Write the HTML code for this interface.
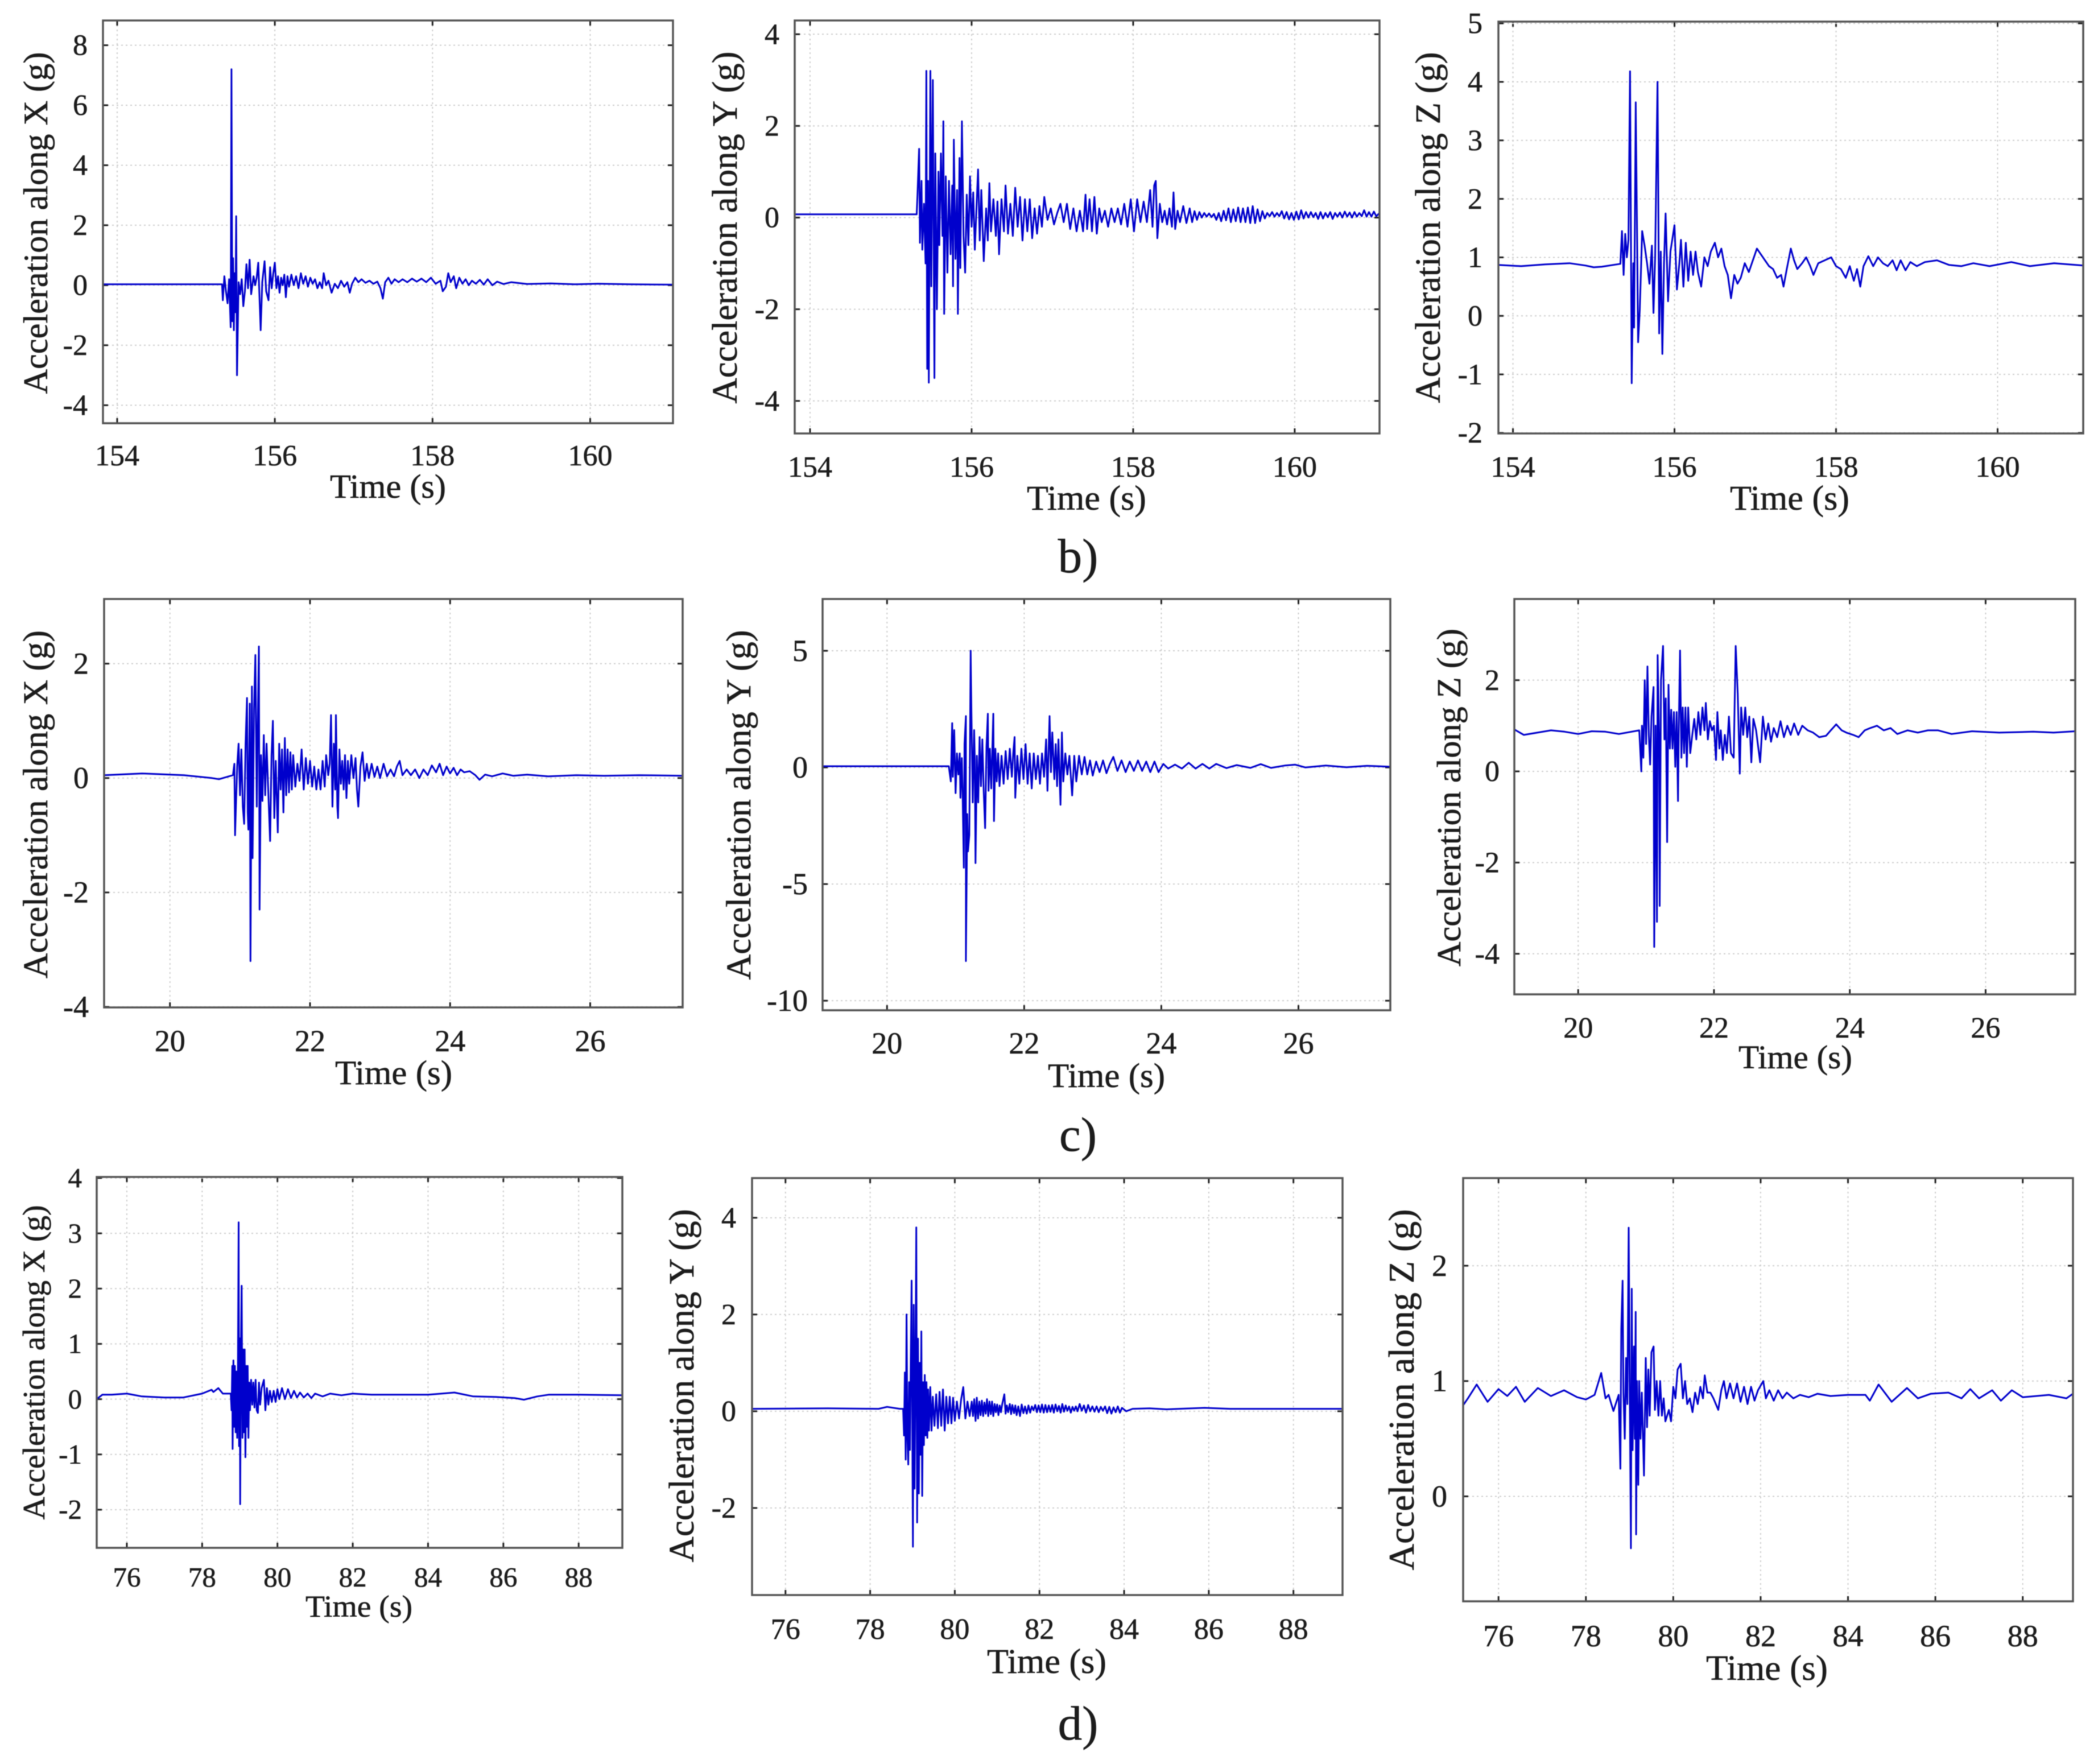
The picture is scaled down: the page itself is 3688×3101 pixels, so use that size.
<!DOCTYPE html>
<html lang="en">
<head>
<meta charset="utf-8">
<title>Acceleration along X, Y and Z versus time</title>
<style>
html,body{margin:0;padding:0;background:#fff;width:3688px;height:3101px;overflow:hidden}
svg{display:block;filter:blur(.7px)}
text{font-family:"Liberation Serif","DejaVu Serif",serif;fill:#1c1c1c;stroke:#1c1c1c;stroke-width:.6px}
</style>
</head>
<body>
<svg id="figure" xmlns="http://www.w3.org/2000/svg" width="3688" height="3101" viewBox="0 0 3688 3101">
<rect x="0" y="0" width="3688" height="3101" fill="#fff"/>
<text x="1895" y="1006" font-size="85" text-anchor="middle">b)</text>
<text x="1895" y="2023" font-size="85" text-anchor="middle">c)</text>
<text x="1895" y="3058" font-size="85" text-anchor="middle">d)</text>
</svg>
<script>
/* ---------- tick labels ---------- */
const bTimeTicks=[154,156,158,160];
const cTimeTicks=[20,22,24,26];
const dTimeTicks=[76,78,80,82,84,86,88];
const bxYTicks=[-4,-2,0,2,4,6,8];
const byYTicks=[-4,-2,0,2,4];
const bzYTicks=[-2,-1,0,1,2,3,4,5];
const cxYTicks=[-4,-2,0,2];
const cyYTicks=[-10,-5,0,5];
const czYTicks=[-4,-2,0,2];
const dxYTicks=[-2,-1,0,1,2,3,4];
const dyYTicks=[-2,0,2,4];
const dzYTicks=[0,1,2];

/* ---------- series: time (s) and acceleration (g) ---------- */
const bxTime=[153.82,155.33,155.34,155.36,155.38,155.40,155.42,155.44,155.45,155.46,
155.47,155.48,155.49,155.50,155.51,155.52,155.54,155.56,155.58,155.60,
155.62,155.64,155.66,155.68,155.70,155.73,155.75,155.77,155.79,155.82,
155.84,155.87,155.89,155.92,155.94,155.96,155.98,156.00,156.02,156.04,
156.06,156.08,156.10,156.12,156.14,156.16,156.18,156.21,156.24,156.27,
156.30,156.33,156.36,156.39,156.42,156.45,156.48,156.51,156.54,156.57,
156.60,156.62,156.65,156.68,156.72,156.76,156.80,156.84,156.88,156.92,
156.95,156.98,157.02,157.06,157.10,157.15,157.20,157.25,157.30,157.34,
157.37,157.40,157.44,157.48,157.52,157.57,157.62,157.68,157.74,157.80,
157.86,157.92,157.98,158.04,158.10,158.13,158.17,158.20,158.23,158.27,
158.30,158.34,158.38,158.42,158.46,158.50,158.55,158.60,158.65,158.70,
158.76,158.82,158.9,159.0,159.2,159.5,159.8,160.1,160.5,161.05];
const bxAccel=[.03,.03,-.5,.3,-.2,-.6,.2,-1.4,7.2,-1.2,
.9,-1.5,.4,-.9,2.3,-3.0,.1,-.3,.2,-.7,
-.2,.7,-.1,.85,-.3,.3,0,.25,.75,-1.5,
.1,.8,-.2,-.5,.6,-.1,.4,.75,-.1,.3,
-.25,.25,0,.35,-.4,.3,-.05,.35,0,.3,
-.1,.4,.05,.3,-.05,.25,.05,.2,-.1,.1,
-.1,.4,0,.15,-.25,.05,-.1,.15,-.05,.1,
-.25,.05,.25,.1,.2,.08,.15,.05,.12,-.1,
-.45,.1,.25,.05,.2,.1,.2,.1,.22,.12,
.22,.1,.25,.05,.15,-.2,-.05,.4,.1,.3,
-.1,.25,.05,.2,0,.15,.05,.18,.02,.2,
0,.12,.04,.1,.04,.06,.03,.05,.03,.02];

const byTime=[153.81,155.32,155.33,155.35,155.36,155.38,155.39,155.41,155.43,155.44,
155.45,155.46,155.47,155.49,155.50,155.52,155.53,155.54,155.55,155.57,
155.59,155.60,155.62,155.64,155.65,155.66,155.68,155.70,155.72,155.74,
155.76,155.77,155.78,155.80,155.82,155.83,155.85,155.86,155.88,155.90,
155.92,155.94,155.96,155.98,156.00,156.02,156.04,156.06,156.08,156.10,
156.12,156.15,156.18,156.20,156.22,156.24,156.27,156.30,156.32,156.34,
156.37,156.40,156.42,156.45,156.48,156.51,156.54,156.57,156.60,156.63,
156.66,156.69,156.72,156.75,156.78,156.81,156.84,156.87,156.90,156.94,
156.98,157.02,157.06,157.10,157.14,157.18,157.22,157.26,157.30,157.34,
157.38,157.41,157.43,157.46,157.49,157.52,157.55,157.58,157.61,157.65,
157.69,157.73,157.77,157.81,157.85,157.89,157.93,157.97,158.01,158.05,
158.09,158.13,158.17,158.21,158.24,158.26,158.28,158.30,158.33,158.36,
158.39,158.42,158.45,158.48,158.50,158.52,158.55,158.58,158.62,158.66,
158.70,158.73,158.76,158.79,158.82,158.85,158.88,158.91,158.94,158.97,
159.0,159.03,159.06,159.09,159.12,159.15,159.18,159.21,159.24,159.27,
159.3,159.33,159.36,159.39,159.42,159.45,159.48,159.51,159.54,159.57,
159.6,159.63,159.66,159.69,159.72,159.75,159.78,159.81,159.84,159.87,
159.9,159.93,159.96,159.99,160.02,160.05,160.08,160.11,160.14,160.17,
160.2,160.23,160.26,160.29,160.32,160.35,160.38,160.41,160.44,160.47,
160.5,160.53,160.56,160.59,160.62,160.65,160.68,160.71,160.74,160.77,
160.8,160.83,160.86,160.89,160.92,160.95,160.98,161.01,161.05];
const byAccel=[.07,.07,.5,1.5,-.55,.8,-.7,.3,-1,3.2,
-3.3,.8,-3.6,3.2,-1.5,3.0,-.5,-3.5,1.4,-2.0,
1.0,-.6,1.4,-.4,2.1,-2.1,.9,-1.2,.8,-.8,
.7,-1.5,1.7,-.9,.6,-2.1,1.3,-1.1,2.1,-.4,
-1.2,.5,-.6,.9,-.2,.55,-.7,.2,1.05,-.5,
.6,-.95,.2,-.5,.75,-.3,.4,-.4,.35,-.8,
.4,-.3,.7,-.35,.3,-.4,.65,-.2,.45,-.5,
.4,-.3,.4,-.45,.2,-.35,.25,-.2,.45,-.05,
.2,-.15,.1,.3,-.1,.3,-.25,.2,-.3,.15,
-.3,.5,-.25,.4,-.3,.45,-.35,.2,-.1,.15,
-.2,.2,-.1,.2,-.15,.3,-.2,.4,-.3,.4,
-.1,.35,-.1,.6,-.2,.7,.8,-.45,.3,-.1,
.15,-.15,.2,-.2,.55,-.25,.15,-.1,.25,-.12,
.2,-.1,.14,-.05,.12,0,.1,.02,.09,.01,
.08,-.05,.1,-.08,.15,-.06,.2,-.1,.18,-.08,
.22,-.1,.2,-.1,.22,-.12,.25,-.12,.18,-.08,
.14,-.02,.1,.03,.12,.02,.1,.03,.14,-.02,
.12,-.04,.1,-.05,.13,-.04,.16,-.02,.12,0,
.12,.01,.1,-.03,.12,-.02,.1,.01,.12,-.03,
.1,.02,.11,0,.13,.02,.11,0,.12,.02,
.1,.03,.16,.02,.12,.02,.13,.03,.1];

const bzTime=[153.82,154.1,154.4,154.7,154.9,155.0,155.1,155.33,155.35,155.37,
155.39,155.41,155.43,155.45,155.47,155.49,155.50,155.52,155.55,155.57,
155.60,155.63,155.66,155.69,155.72,155.74,155.76,155.79,155.81,155.83,
155.85,155.87,155.89,155.92,155.95,156.00,156.03,156.06,156.08,156.11,
156.14,156.17,156.2,156.23,156.26,156.29,156.33,156.37,156.41,156.45,
156.5,156.54,156.58,156.62,156.66,156.7,156.74,156.78,156.82,156.87,
156.92,156.97,157.02,157.07,157.12,157.17,157.22,157.27,157.32,157.35,
157.39,157.44,157.48,157.52,157.58,157.63,157.68,157.72,157.78,157.86,
157.94,158.0,158.06,158.12,158.17,158.22,158.26,158.3,158.34,158.4,
158.46,158.52,158.58,158.64,158.7,158.75,158.8,158.86,158.92,159.0,
159.1,159.25,159.4,159.55,159.7,159.9,160.17,160.4,160.7,161.06];
const bzAccel=[.87,.85,.88,.9,.86,.83,.84,.89,1.45,.7,
1.4,1.0,1.3,4.18,-1.15,.9,-.2,3.65,-.45,.1,
1.45,1.2,.9,.55,1.2,.05,1.0,4.0,-.3,1.1,
-.65,.9,1.75,.25,1.1,1.55,.45,.9,1.3,.5,
1.25,.6,1.1,.7,1.1,.75,.5,1.0,.85,1.1,
1.25,1.0,1.15,.85,.7,.3,.7,.55,.65,.9,
.75,.95,1.15,1.05,.95,.85,.8,.65,.7,.5,
.8,1.15,.95,.8,.9,1.0,.85,.7,.9,.95,
1.0,.85,.8,.65,.85,.6,.8,.5,.85,1.02,
.85,1.0,.9,.85,.95,.78,.95,.78,.92,.85,
.92,.95,.87,.85,.9,.85,.92,.85,.9,.86];

const cxTime=[19.06,19.6,20.2,20.6,20.7,20.9,20.92,20.93,20.96,20.98,
21.0,21.02,21.04,21.06,21.08,21.10,21.11,21.12,21.14,21.15,
21.17,21.18,21.20,21.22,21.24,21.25,21.27,21.28,21.30,21.32,
21.34,21.36,21.38,21.40,21.43,21.45,21.47,21.49,21.51,21.54,
21.56,21.58,21.60,21.62,21.64,21.66,21.68,21.70,21.72,21.74,
21.76,21.79,21.82,21.85,21.88,21.91,21.94,21.97,22.0,22.03,
22.06,22.09,22.12,22.15,22.18,22.21,22.23,22.26,22.28,22.30,
22.32,22.34,22.36,22.37,22.39,22.40,22.42,22.44,22.46,22.48,
22.5,22.52,22.54,22.56,22.59,22.62,22.65,22.67,22.69,22.72,
22.75,22.78,22.81,22.84,22.88,22.92,22.96,23.0,23.05,23.1,
23.15,23.2,23.24,23.28,23.32,23.38,23.44,23.5,23.56,23.62,
23.68,23.74,23.8,23.85,23.9,23.95,24.0,24.05,24.1,24.15,
24.2,24.28,24.36,24.42,24.5,24.6,24.75,24.9,25.1,25.4,
25.8,26.2,26.7,27.32];
const cxAccel=[.05,.08,.05,0,-.02,.05,.25,-1.0,.2,.6,
-.3,.5,-.5,-.8,.6,1.4,-.6,-.9,1.3,-3.2,
1.6,-1.4,1.2,2.15,-.5,.6,2.3,-2.3,.4,-.4,
.75,-.3,.6,-.1,-1.1,.4,1.0,-.7,.3,-.95,
.6,-.2,.5,-.6,.7,-.3,.5,-.25,.45,-.2,
.4,-.15,.25,-.05,.5,-.2,.35,-.1,.3,-.15,
.2,-.2,.15,-.2,.3,-.15,.4,.05,.25,1.1,
-.5,.6,-.2,1.1,-.5,-.7,.5,-.1,.3,-.2,
.4,-.35,.3,-.1,.4,0,.35,-.2,-.5,.2,
.45,-.05,.25,0,.25,.02,.2,0,.25,.03,
.15,.03,.2,.3,.05,.15,.05,.15,0,.15,
.05,.22,.1,.25,.05,.2,.08,.18,.05,.15,
.1,.12,.05,-.03,.06,.03,.08,.04,.06,.03,
.05,.04,.05,.04];

const cyTime=[19.06,20.9,20.93,20.95,20.96,20.98,21.0,21.02,21.04,21.06,
21.07,21.09,21.10,21.12,21.13,21.15,21.15,21.17,21.18,21.20,
21.21,21.22,21.23,21.25,21.27,21.28,21.29,21.31,21.33,21.35,
21.37,21.39,21.41,21.43,21.45,21.47,21.48,21.50,21.52,21.55,
21.56,21.58,21.60,21.62,21.64,21.67,21.70,21.73,21.76,21.79,
21.82,21.84,21.86,21.87,21.90,21.93,21.96,21.99,22.02,22.05,
22.08,22.11,22.14,22.17,22.20,22.23,22.26,22.29,22.32,22.34,
22.37,22.39,22.41,22.44,22.46,22.48,22.50,22.53,22.55,22.57,
22.60,22.63,22.66,22.70,22.73,22.76,22.8,22.84,22.88,22.92,
22.96,23.0,23.05,23.1,23.15,23.2,23.25,23.3,23.36,23.42,
23.48,23.54,23.6,23.66,23.72,23.78,23.84,23.9,23.96,24.03,
24.1,24.2,24.3,24.4,24.5,24.6,24.7,24.8,24.95,25.1,
25.3,25.45,25.6,25.8,25.95,26.1,26.4,26.7,27.0,27.34];
const cyAccel=[.05,.05,-.6,1.9,-.4,1.6,-1.1,.6,-.3,.6,
-1.3,.4,-.8,-4.3,1.0,2.2,-8.3,-2,-3.6,-2.9,
1,5.0,2.4,-1.5,1.6,.3,-4.1,.5,-1.5,1.3,
-.8,1.2,-1,-2.6,.9,2.3,-1,.8,-.9,2.3,
-2.3,.8,-.6,.6,-.8,.5,-.7,.7,-.5,.8,
-.4,.6,1.3,-1.3,.5,-.7,.8,-.5,1.0,-.7,
.6,-.9,.6,-.5,.5,-.7,.6,-.4,1.2,-1.0,
2.2,-.2,1.5,-.5,1.0,-.8,1.2,-1.6,1.5,-.6,
.6,-.3,.5,-1.2,.5,-.6,.5,-.3,.45,-.3,
.3,-.35,.25,-.2,.3,-.25,.15,.45,-.15,.3,
-.2,.25,-.15,.3,-.15,.25,-.2,.25,-.2,.15,
-.05,.12,-.05,.2,-.05,.15,-.05,.15,-.03,.1,
-.02,.14,-.02,.08,.12,0,.08,.01,.07,.03];

const czTime=[19.06,19.2,19.4,19.6,19.8,20.0,20.2,20.4,20.6,20.9,
20.93,20.94,20.96,20.98,21.0,21.02,21.04,21.06,21.08,21.11,
21.12,21.14,21.16,21.17,21.19,21.20,21.22,21.25,21.27,21.29,
21.31,21.33,21.35,21.37,21.39,21.41,21.43,21.45,21.47,21.48,
21.50,21.52,21.54,21.56,21.58,21.60,21.62,21.65,21.68,21.71,
21.74,21.77,21.8,21.83,21.86,21.88,21.91,21.94,21.97,22.0,
22.03,22.05,22.08,22.1,22.13,22.16,22.19,22.22,22.25,22.29,
22.32,22.35,22.38,22.4,22.43,22.46,22.49,22.52,22.55,22.58,
22.62,22.65,22.68,22.72,22.76,22.8,22.84,22.88,22.93,22.98,
23.03,23.08,23.13,23.18,23.24,23.3,23.38,23.46,23.55,23.65,
23.72,23.8,23.88,23.95,24.05,24.13,24.22,24.3,24.4,24.5,
24.6,24.7,24.85,25.0,25.15,25.3,25.5,25.8,26.2,26.7,
27.0,27.32];
const czAccel=[.92,.8,.85,.9,.87,.82,.88,.87,.82,.9,
0,1.0,.3,2.0,.6,2.3,.8,.15,1.2,1.85,
-3.85,1,-3.3,2.55,.8,-2.95,2.0,2.75,.7,1.6,
-1.55,1.9,.5,1.35,.5,1.3,.1,1.3,-.65,.8,
2.65,.3,1.4,.4,1.4,.1,1.4,.4,.8,1.15,
.7,1.3,.8,1.4,.9,1.5,.7,1.1,.9,1.0,
.25,1.3,.5,.9,.25,.8,.4,1.2,.4,.3,
2.75,1.7,-.05,1.4,.8,1.4,.75,1.2,.2,1.15,
.9,.55,.2,1.2,.7,1.05,.65,.95,.75,1.1,
.75,1.0,.8,1.05,.8,1.0,.9,.85,.75,.78,
.9,1.03,.9,.85,.8,.75,.9,.95,1.0,.9,
.95,.82,.9,.85,.9,.9,.82,.88,.85,.87,
.85,.88];

const dxTime=[75.2,75.35,75.6,76.0,76.4,77.0,77.5,78.0,78.25,78.3,
78.43,78.55,78.76,78.78,78.80,78.81,78.83,78.85,78.87,78.89,
78.91,78.93,78.95,78.97,78.98,79.00,79.01,79.03,79.05,79.07,
79.09,79.11,79.13,79.15,79.17,79.19,79.21,79.23,79.25,79.27,
79.30,79.33,79.36,79.39,79.42,79.45,79.48,79.51,79.54,79.58,
79.64,79.68,79.72,79.76,79.8,79.85,79.9,79.95,80.0,80.05,
80.12,80.2,80.28,80.36,80.44,80.52,80.6,80.7,80.8,80.9,
81.0,81.2,81.4,81.7,82.0,82.5,83,83.5,84,84.7,
85.2,85.8,86.3,86.55,86.9,87.2,88,89.16];
const dxAccel=[0,.08,.08,.1,.05,.03,.03,.1,.17,.13,
.2,.1,.1,-.2,.6,-.9,.7,-.5,.6,-.6,
.5,-.7,.4,3.2,-.85,1.1,-1.9,.9,2.05,-.7,
.9,-.6,.9,-1.05,.6,-.5,.6,-.7,.3,-.2,
.35,-.1,.3,-.15,.35,-.2,-.25,.3,-.1,.2,
.35,-.2,.2,-.1,.15,-.05,.15,-.05,.18,0,
.2,0,.18,.02,.15,.03,.12,.03,.1,.02,
.1,.05,.1,.07,.1,.08,.08,.08,.08,.12,
.05,.04,.02,-.01,.05,.08,.08,.07];

const dyTime=[75.21,77,78.2,78.4,78.7,78.78,78.80,78.82,78.84,78.86,
78.88,78.90,78.92,78.94,78.96,78.98,79.0,79.01,79.03,79.05,
79.07,79.09,79.11,79.13,79.15,79.17,79.19,79.21,79.23,79.25,
79.27,79.29,79.31,79.33,79.35,79.37,79.39,79.42,79.45,79.48,
79.52,79.56,79.6,79.64,79.68,79.72,79.76,79.8,79.84,79.88,
79.92,79.96,80.0,80.05,80.1,80.15,80.2,80.25,80.3,80.35,
80.4,80.43,80.46,80.49,80.52,80.55,80.58,80.61,80.64,80.67,
80.7,80.73,80.76,80.79,80.82,80.85,80.88,80.91,80.94,80.97,
81.0,81.03,81.06,81.09,81.12,81.17,81.2,81.23,81.26,81.3,
81.33,81.36,81.4,81.43,81.46,81.5,81.54,81.58,81.62,81.66,
81.7,81.74,81.78,81.82,81.86,81.9,81.94,81.98,82.02,82.06,
82.1,82.14,82.18,82.22,82.26,82.3,82.34,82.38,82.42,82.46,
82.5,82.54,82.58,82.62,82.66,82.7,82.74,82.78,82.82,82.86,
82.9,82.95,83.0,83.05,83.1,83.15,83.2,83.25,83.3,83.35,
83.4,83.45,83.5,83.55,83.6,83.65,83.7,83.75,83.8,83.85,
83.9,83.95,84.05,
84.2,84.6,85,85.9,86.5,87.5,89.16];
const dyAccel=[.05,.06,.05,.09,.05,.05,-.5,.8,-1.0,2.0,
-.5,-1.1,.6,-.8,1.0,2.7,-1.1,-2.8,2.2,-1.6,
.8,3.8,-2.3,1.5,-1.7,1.0,-.9,1.65,-1.75,.6,
-.7,.75,-.5,.6,-.55,.45,-.4,.5,-.4,.3,
-.3,.35,-.35,.4,-.3,.45,-.4,.3,-.25,.3,
-.25,.28,-.2,.2,-.15,.25,.5,-.15,.2,-.1,
.2,-.1,.25,-.2,.28,-.15,.2,-.08,.22,-.1,
.18,-.05,.25,-.1,.2,-.06,.2,-.1,.15,-.02,
.14,-.08,.12,-.02,.15,.35,-.05,.12,-.02,.15,
-.06,.13,-.04,.12,-.08,.1,-.1,.14,-.04,.1,
-.05,.12,-.03,.1,.02,.13,-.02,.12,-.02,.14,
-.03,.13,-.02,.12,-.01,.13,-.03,.14,0,.11,
-.03,.15,-.01,.12,.01,.1,-.03,.09,.01,.1,
0,.15,.01,.12,-.03,.13,0,.1,-.01,.1,
-.02,.09,.01,.1,-.04,.09,-.05,.08,-.02,.1,
-.03,.07,0,
.05,.06,.04,.07,.05,.05,.05];

const dzTime=[75.19,75.3,75.5,75.75,76.0,76.2,76.4,76.6,76.9,77.2,
77.5,77.8,78.0,78.2,78.35,78.45,78.52,78.63,78.75,78.79,
78.81,78.84,78.86,78.89,78.92,78.95,78.98,79.0,79.03,79.05,
79.07,79.10,79.12,79.14,79.15,79.17,79.2,79.22,79.25,79.28,
79.33,79.37,79.4,79.43,79.46,79.5,79.55,79.58,79.62,79.66,
79.7,79.74,79.78,79.82,79.86,79.9,79.95,80.0,80.05,80.1,
80.17,80.22,80.27,80.32,80.38,80.44,80.5,80.56,80.62,80.68,
80.72,80.78,80.85,80.92,81.03,81.1,81.16,81.22,81.3,81.38,
81.46,81.54,81.62,81.7,81.78,81.86,81.94,82.06,82.12,82.2,
82.3,82.4,82.5,82.6,82.75,82.9,83.1,83.3,83.6,84.0,
84.4,84.5,84.7,85,85.35,85.6,85.9,86.3,86.6,86.8,
87,87.3,87.5,87.75,88,88.6,89,89.15];
const dzAccel=[.79,.85,.97,.82,.93,.87,.95,.82,.94,.87,
.92,.86,.84,.88,1.07,.85,.88,.74,.88,.24,
1.45,1.87,.9,.5,1.2,.8,2.33,1.1,-.45,1.8,
.4,1.3,.5,1.6,-.33,1.0,.1,1.0,.5,.9,
.18,1.2,.6,1.1,.7,1.25,1.3,.75,1.0,.7,
1.0,.7,.85,.65,.7,.75,.65,.95,.85,1.1,
1.15,.85,1.0,.8,.85,.73,.9,.8,.95,.85,
1.05,.9,.9,.85,.75,.92,1.0,.85,.98,.85,
.98,.82,.95,.8,.95,.83,.92,1.0,.85,.92,
.83,.92,.85,.9,.85,.88,.86,.89,.87,.88,
.88,.83,.97,.82,.94,.85,.89,.9,.85,.93,
.85,.92,.83,.92,.86,.88,.85,.89];

/* ---------- panel layout ---------- */
const panels=[
{id:'b-x',title:'Acceleration along X (g)',time:bxTime,accel:bxAccel,xTicks:bTimeTicks,yTicks:bxYTicks,left:181,right:1183,top:36,bottom:744,xMin:153.82,xMax:161.05,yMin:-4.6,yMax:8.825,tickFont:52,xLabelCy:801,yLabelRight:154,timeX:682,timeY:875,timeLen:204,timeFont:59,titleX:83,titleCy:392,titleLen:601,titleFont:60},
{id:'b-y',title:'Acceleration along Y (g)',time:byTime,accel:byAccel,xTicks:bTimeTicks,yTicks:byYTicks,left:1397,right:2425,top:36,bottom:762,xMin:153.81,xMax:161.05,yMin:-4.71,yMax:4.3,tickFont:52,xLabelCy:821,yLabelRight:1370,timeX:1910,timeY:896,timeLen:210,timeFont:61,titleX:1295,titleCy:400,titleLen:619,titleFont:62},
{id:'b-z',title:'Acceleration along Z (g)',time:bzTime,accel:bzAccel,xTicks:bTimeTicks,yTicks:bzYTicks,left:2634,right:3662,top:38,bottom:762,xMin:153.82,xMax:161.06,yMin:-2.01,yMax:5.03,tickFont:52,xLabelCy:821,yLabelRight:2606,timeX:3146,timeY:896,timeLen:210,timeFont:61,titleX:2531,titleCy:400,titleLen:617,titleFont:62},
{id:'c-x',title:'Acceleration along X (g)',time:cxTime,accel:cxAccel,xTicks:cTimeTicks,yTicks:cxYTicks,left:183,right:1200,top:1053,bottom:1771,xMin:19.06,xMax:27.32,yMin:-4.01,yMax:3.13,tickFont:54,xLabelCy:1830,yLabelRight:156,timeX:692,timeY:1906,timeLen:206,timeFont:60,titleX:83,titleCy:1414,titleLen:612,titleFont:61},
{id:'c-y',title:'Acceleration along Y (g)',time:cyTime,accel:cyAccel,xTicks:cTimeTicks,yTicks:cyYTicks,left:1446,right:2444,top:1053,bottom:1776,xMin:19.06,xMax:27.34,yMin:-10.41,yMax:7.22,tickFont:54,xLabelCy:1834,yLabelRight:1420,timeX:1945,timeY:1911,timeLen:206,timeFont:60,titleX:1319,titleCy:1415,titleLen:615,titleFont:61},
{id:'c-z',title:'Acceleration along Z (g)',time:czTime,accel:czAccel,xTicks:cTimeTicks,yTicks:czYTicks,left:2662,right:3648,top:1053,bottom:1748,xMin:19.06,xMax:27.32,yMin:-4.89,yMax:3.78,tickFont:52,xLabelCy:1807,yLabelRight:2636,timeX:3156,timeY:1878,timeLen:200,timeFont:58,titleX:2567,titleCy:1402,titleLen:594,titleFont:59},
{id:'d-x',title:'Acceleration along X (g)',time:dxTime,accel:dxAccel,xTicks:dTimeTicks,yTicks:dxYTicks,left:170,right:1094,top:2069,bottom:2721,xMin:75.2,xMax:89.16,yMin:-2.69,yMax:4.02,tickFont:49,xLabelCy:2773,yLabelRight:144,timeX:631,timeY:2842,timeLen:188,timeFont:54,titleX:78,titleCy:2395,titleLen:553,titleFont:55},
{id:'d-y',title:'Acceleration along Y (g)',time:dyTime,accel:dyAccel,xTicks:dTimeTicks,yTicks:dyYTicks,left:1322,right:2360,top:2071,bottom:2804,xMin:75.21,xMax:89.16,yMin:-3.8,yMax:4.82,tickFont:52,xLabelCy:2864,yLabelRight:1294,timeX:1840,timeY:2941,timeLen:210,timeFont:61,titleX:1219,titleCy:2436,titleLen:621,titleFont:62},
{id:'d-z',title:'Acceleration along Z (g)',time:dzTime,accel:dzAccel,xTicks:dTimeTicks,yTicks:dzYTicks,left:2572,right:3644,top:2071,bottom:2815,xMin:75.19,xMax:89.15,yMin:-.91,yMax:2.76,tickFont:54,xLabelCy:2876,yLabelRight:2544,timeX:3106,timeY:2953,timeLen:214,timeFont:62,titleX:2485,titleCy:2443,titleLen:635,titleFont:63}
];

const NS='http://www.w3.org/2000/svg';
const figure=document.getElementById('figure');
function add(parent,tag,attrs,txt){
  const el=document.createElementNS(NS,tag);
  for(const k in attrs){el.setAttribute(k,attrs[k]);}
  if(txt!==undefined){el.textContent=txt;}
  parent.appendChild(el);
  return el;
}
function drawPanel(p){
  const xScale=t=>p.left+(t-p.xMin)*(p.right-p.left)/(p.xMax-p.xMin);
  const yScale=v=>p.bottom-(v-p.yMin)*(p.bottom-p.top)/(p.yMax-p.yMin);
  const grp=add(figure,'g',{});
  
  

  p.xTicks.forEach(function(t){
    const px=xScale(t);
    const grid=add(grp,'line',{x1:px,x2:px,y1:p.top,y2:p.bottom,stroke:'#cdcdcd','stroke-width':2,'stroke-dasharray':'3 5'});
    
    
    const tickB=add(grp,'line',{x1:px,x2:px,y1:p.bottom,y2:p.bottom-9,stroke:'#222','stroke-width':3});
    
    
    const tickT=add(grp,'line',{x1:px,x2:px,y1:p.top,y2:p.top+9,stroke:'#222','stroke-width':3});
    
    
    const label=add(grp,'text',{x:px,y:p.xLabelCy+p.tickFont*.33,'font-size':p.tickFont,'text-anchor':'middle'},String(t));
    
    
  });

  p.yTicks.forEach(function(v){
    const py=yScale(v);
    const grid=add(grp,'line',{x1:p.left,x2:p.right,y1:py,y2:py,stroke:'#cdcdcd','stroke-width':2,'stroke-dasharray':'3 5'});
    
    
    const tickL=add(grp,'line',{x1:p.left,x2:p.left+9,y1:py,y2:py,stroke:'#222','stroke-width':3});
    
    
    const tickR=add(grp,'line',{x1:p.right,x2:p.right-9,y1:py,y2:py,stroke:'#222','stroke-width':3});
    
    
    const label=add(grp,'text',{x:p.yLabelRight,y:py+p.tickFont*.33,'font-size':p.tickFont,'text-anchor':'end'},String(v));
    
    
  });

  let d='';
  const n=Math.min(p.time.length,p.accel.length);
  for(let i=0;i<n;i++){
    d+=(i?'L':'M')+xScale(p.time[i]).toFixed(1)+' '+yScale(p.accel[i]).toFixed(1);
  }
  const trace=add(grp,'path',{d:d,fill:'none',stroke:'#0000cc','stroke-width':3,'stroke-linejoin':'round'});
  
  

  const frame=add(grp,'rect',{x:p.left,y:p.top,width:p.right-p.left,height:p.bottom-p.top,fill:'none',stroke:'#555','stroke-width':3.5});
  
  

  const timeLabel=add(grp,'text',{x:p.timeX,y:p.timeY,'font-size':p.timeFont,'text-anchor':'middle',textLength:p.timeLen,lengthAdjust:'spacingAndGlyphs'},'Time (s)');
  
  

  const yTitle=add(grp,'text',{'font-size':p.titleFont,'text-anchor':'middle',textLength:p.titleLen,lengthAdjust:'spacingAndGlyphs',transform:'translate('+p.titleX+' '+p.titleCy+') rotate(-90)'},p.title);
  
  
}
panels.forEach(drawPanel);
</script>
</body>
</html>
